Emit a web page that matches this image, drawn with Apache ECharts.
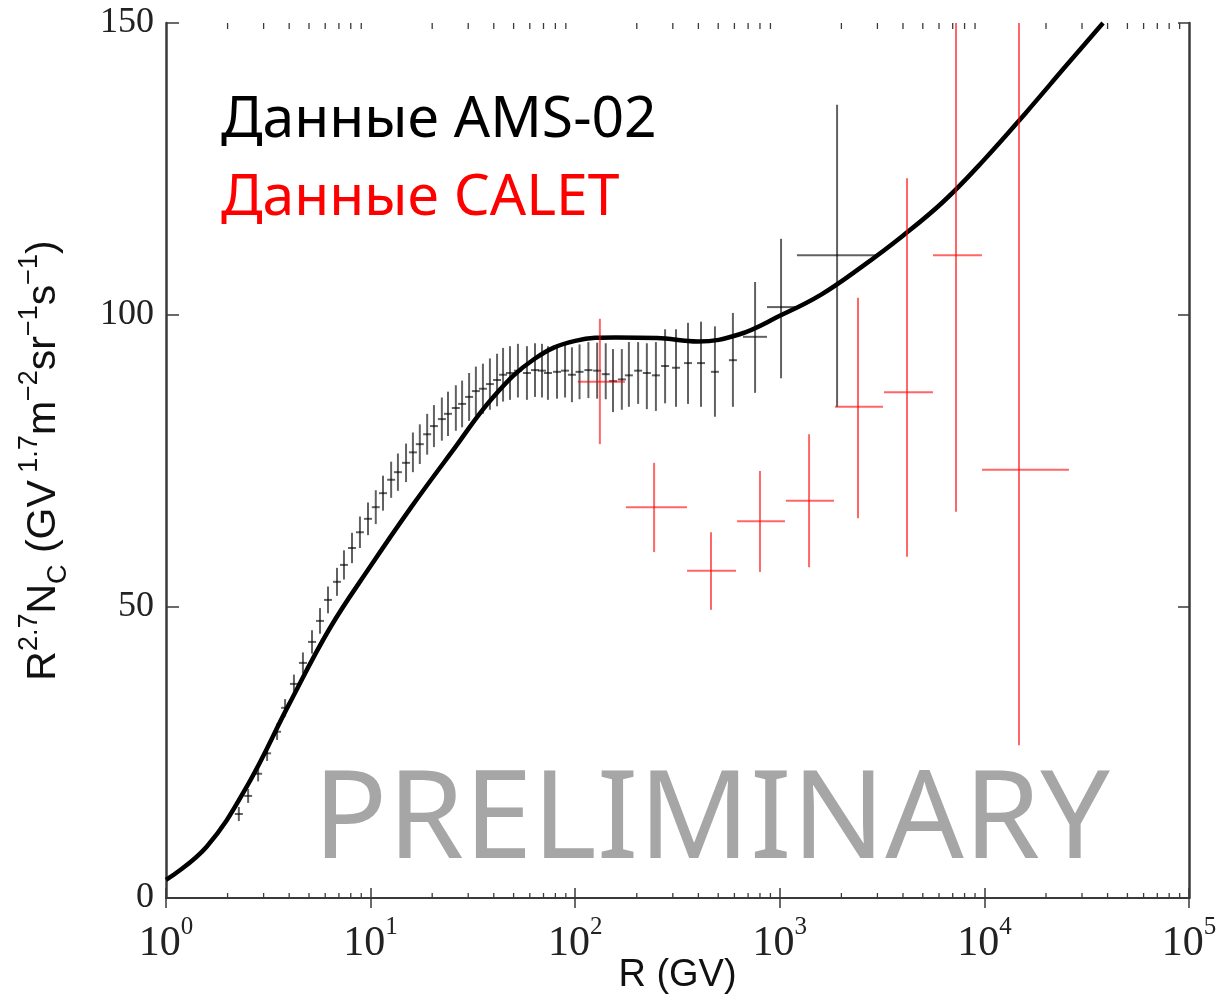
<!DOCTYPE html>
<html>
<head>
<meta charset="utf-8">
<title>R^2.7 N_C vs R</title>
<script src="https://cdn.jsdelivr.net/npm/echarts@6/dist/echarts.min.js"></script>
<style>
  html, body { margin: 0; padding: 0; background: #fff; }
  #chart { width: 1219px; height: 1003px; }
</style>
</head>
<body>
<div id="chart"></div>
<script>
// AMS-02 points: rigidity (GV), value, error bar low/high, bin edges (only last few)
const amsR = [2.27, 2.52, 2.82, 3.12, 3.49, 3.82, 4.22, 4.67, 5.17, 5.66,
  6.19, 6.85, 7.41, 8.11, 8.87, 9.71, 10.6, 11.5, 12.6, 13.6,
  14.9, 16.1, 17.4, 18.9, 20.4, 22.3, 23.9, 26.1, 28.0, 30.3,
  32.7, 35.4, 38.3, 41.5, 44.4, 48.0, 52.5, 58.1, 63.6, 68.8,
  73.6, 81.5, 89.2, 96.4, 105, 116, 128, 141, 153, 169,
  183, 203, 224, 248, 275, 311, 356, 412, 482, 590,
  757, 1014, 1905];
const amsVal = [14.4, 17.5, 21.3, 24.8, 28.5, 32.6, 36.7, 40.3, 43.9, 47.5,
  51.1, 54.2, 57.1, 60.0, 62.7, 65.0, 67.0, 69.4, 71.7, 73.0,
  74.6, 76.4, 77.8, 79.5, 80.9, 82.1, 83.0, 84.0, 84.7, 85.9,
  86.9, 87.3, 88.1, 88.8, 89.7, 90.0, 90.4, 90.0, 90.5, 90.4,
  90.0, 90.2, 90.4, 89.7, 90.2, 90.5, 90.4, 89.8, 88.6, 88.9,
  89.6, 90.4, 90.0, 89.6, 91.2, 90.9, 91.7, 91.7, 90.2, 92.2,
  96.2, 101.3, 110.2];
const amsLow = [13.2, 16.3, 20.0, 23.5, 27.1, 31.1, 35.1, 38.5, 41.9, 45.3,
  48.8, 51.8, 54.6, 57.4, 60.0, 62.2, 64.1, 66.4, 68.6, 69.8,
  71.3, 73.0, 74.4, 76.0, 77.3, 78.4, 79.2, 80.1, 80.7, 81.8,
  82.7, 83.0, 83.7, 84.3, 85.1, 85.4, 85.8, 85.4, 85.9, 85.8,
  85.4, 85.6, 85.8, 85.0, 85.5, 85.7, 85.6, 85.5, 83.3, 83.7,
  84.2, 84.7, 83.8, 83.5, 84.8, 84.2, 84.7, 84.2, 82.5, 84.2,
  86.6, 89.1, 84.2];
const amsHigh = [15.6, 18.7, 22.6, 26.1, 29.9, 34.1, 38.3, 42.1, 45.9, 49.7,
  53.4, 56.6, 59.6, 62.6, 65.4, 67.8, 69.9, 72.4, 74.8, 76.2,
  77.9, 79.8, 81.2, 83.0, 84.5, 85.8, 86.8, 87.9, 88.7, 90.0,
  91.1, 91.6, 92.5, 93.3, 94.3, 94.6, 95.0, 94.6, 95.1, 95.0,
  94.6, 94.8, 95.0, 94.4, 94.9, 95.3, 95.2, 95.1, 94.1, 94.1,
  95.3, 95.3, 95.1, 95.3, 97.5, 97.5, 98.6, 98.8, 98.0, 100.3,
  105.6, 113.0, 136.0];
const amsBinLo = { 60: 661, 61: 866, 62: 1213 };
const amsBinHi = { 60: 866, 61: 1199, 62: 2985 };

// CALET points
const calR = [132, 243, 461, 800, 1390, 2411, 4186, 7264, 14760];
const calVal = [88.5, 67.0, 56.1, 64.6, 68.1, 84.2, 86.7, 110.2, 73.4];
const calLow = [77.8, 59.3, 49.4, 55.9, 56.7, 65.1, 58.5, 66.2, 26.2];
const calHigh = [99.3, 74.6, 62.7, 73.2, 79.5, 102.9, 123.4, 150, 150];
const calBinLo = [103, 177, 352, 618, 1072, 1862, 3230, 5607, 9730];
const calBinHi = [175, 352, 611, 1060, 1841, 3194, 5607, 9730, 25900];

// model curve, read every 0.2 decade
const modelR = [1, 1.58, 2.51, 3.98, 6.31, 10, 15.8, 25.1, 39.8, 63.1, 100, 158, 251, 398, 631,
  1000, 1585, 2512, 3981, 6310, 10000, 15850, 25120, 38000];
const modelVal = [3.1, 8.8, 19.4, 33.1, 46.2, 56.9, 67.0, 76.6, 85.9, 92.4, 95.5, 96.1, 96.0, 95.4, 96.6,
  99.8, 103.4, 108.2, 113.5, 119.4, 126.6, 134.5, 142.7, 150.0];

// axis ticks
const yTicks = [0, 50, 100, 150];
const decades = [1, 10, 100, 1000, 10000];
const minorMantissa = [2, 3, 4, 5, 6, 7, 8, 9];

const minorTicks = [];
decades.forEach(d => minorMantissa.forEach(m => minorTicks.push([m * d])));

const amsData = amsR.map((r, i) => [r, amsVal[i], amsLow[i], amsHigh[i],
  amsBinLo[i] || null, amsBinHi[i] || null]);
const calData = calR.map((r, i) => [r, calVal[i], calLow[i], calHigh[i], calBinLo[i], calBinHi[i]]);
const modelData = modelR.map((r, i) => [r, modelVal[i]]);

const axisColor = '#3a3a3a';
const serif = "'Liberation Serif', 'DejaVu Serif', serif";
const sans = "'Liberation Sans', Arial, sans-serif";
const legendFont = "'Noto Sans', 'Open Sans', sans-serif";

function errorBarItem(color, width, dash) {
  return function (params, api) {
    const x = api.value(0);
    const c = api.coord([x, api.value(1)]);
    const top = api.coord([x, api.value(3)]);
    const bot = api.coord([x, api.value(2)]);
    const xl = api.value(4), xh = api.value(5);
    let left = c[0] - dash, right = c[0] + dash;
    if (xl && xh && !isNaN(xl) && !isNaN(xh)) {
      left = api.coord([xl, api.value(1)])[0];
      right = api.coord([xh, api.value(1)])[0];
    }
    const style = { stroke: color, lineWidth: width };
    return {
      type: 'group',
      children: [
        { type: 'line', shape: { x1: c[0], y1: top[1], x2: c[0], y2: bot[1] }, style: style },
        { type: 'line', shape: { x1: left, y1: c[1], x2: right, y2: c[1] }, style: style }
      ]
    };
  };
}

function minorTickItem(params, api) {
  const v = api.value(0);
  const b = api.coord([v, 0]);
  const t = api.coord([v, 150]);
  const style = { stroke: axisColor, lineWidth: 1.3 };
  return {
    type: 'group',
    children: [
      { type: 'line', shape: { x1: b[0], y1: b[1], x2: b[0], y2: b[1] - 5 }, style: style },
      { type: 'line', shape: { x1: t[0], y1: t[1], x2: t[0], y2: t[1] + 6 }, style: style }
    ]
  };
}

const chart = echarts.init(document.getElementById('chart'), null, { renderer: 'canvas' });

const option = {
  backgroundColor: '#fff',
  animation: false,
  grid: { left: 166, right: 30, top: 23, bottom: 105, containLabel: false, outerBoundsMode: 'none' },
  xAxis: [
    {
      type: 'log', logBase: 10, min: 1, max: 100000,
      position: 'bottom',
      axisLine: { show: true, lineStyle: { color: axisColor, width: 2 } },
      axisTick: { show: true, inside: true, length: 10, lineStyle: { color: axisColor, width: 1.5 } },
      splitLine: { show: false },
      axisLabel: {
        margin: 17,
        formatter: function (v) {
          return '{b|10}{s|' + Math.round(Math.log10(v)) + '}';
        },
        rich: {
          b: { fontFamily: serif, fontSize: 42, lineHeight: 58, color: '#222' },
          s: { fontFamily: serif, fontSize: 25, lineHeight: 25, verticalAlign: 'top', color: '#222' }
        }
      },
      name: 'R (GV)',
      nameLocation: 'middle',
      nameGap: 59,
      nameMoveOverlap: false,
      nameTextStyle: { fontFamily: sans, fontSize: 38, color: '#111' }
    },
    {
      type: 'log', logBase: 10, min: 1, max: 100000,
      position: 'top',
      axisLine: { show: true, lineStyle: { color: axisColor, width: 2 } },
      axisTick: { show: true, inside: true, length: 10, lineStyle: { color: axisColor, width: 1.5 } },
      axisLabel: { show: false },
      splitLine: { show: false }
    }
  ],
  yAxis: [
    {
      type: 'value', min: 0, max: 150, interval: 50,
      position: 'left',
      axisLine: { show: true, lineStyle: { color: axisColor, width: 2.5 } },
      axisTick: { show: true, inside: true, length: 13, lineStyle: { color: axisColor, width: 1.5 } },
      splitLine: { show: false },
      axisLabel: {
        margin: 12,
        fontFamily: serif, fontSize: 36, color: '#222',
        formatter: v => (yTicks.indexOf(v) >= 0 ? String(v) : '')
      },
      name: '{b|R}{sup|2.7}{b|N}{sub|C}{b| (GV}{sup| 1.7}{b|m}{sup|−2}{b|sr}{sup|−1}{b|s}{sup|−1}{b|)}',
      nameLocation: 'middle',
      nameRotate: 90,
      nameGap: 94,
      nameMoveOverlap: false,
      nameTextStyle: {
        rich: {
          b: { fontFamily: sans, fontSize: 41, lineHeight: 56, color: '#111' },
          sup: { fontFamily: sans, fontSize: 27, lineHeight: 27, verticalAlign: 'top', color: '#111' },
          sub: { fontFamily: sans, fontSize: 27, lineHeight: 27, verticalAlign: 'bottom', color: '#111' }
        }
      }
    },
    {
      type: 'value', min: 0, max: 150, interval: 50,
      position: 'right',
      axisLine: { show: true, lineStyle: { color: axisColor, width: 2.5 } },
      axisTick: { show: true, inside: true, length: 11, lineStyle: { color: axisColor, width: 1.5 } },
      axisLabel: { show: false },
      splitLine: { show: false }
    }
  ],
  graphic: [
    {
      type: 'text', left: 221, top: 92, z: 10,
      style: { text: 'Данные AMS-02', font: '57px ' + legendFont, fill: '#000' }
    },
    {
      type: 'text', left: 221, top: 170, z: 10,
      style: { text: 'Данные CALET', font: '57px ' + legendFont, fill: '#ff0000' }
    },
    {
      type: 'text', left: 313, top: 761, z: 10,
      style: { text: 'PRELIMINARY', font: '123px ' + legendFont, fill: '#a6a6a6' }
    }
  ],
  series: [
    {
      name: 'minor ticks',
      type: 'custom',
      xAxisIndex: 0, yAxisIndex: 0,
      silent: true,
      renderItem: minorTickItem,
      data: minorTicks,
      z: 1
    },
    {
      name: 'AMS-02',
      type: 'custom',
      xAxisIndex: 0, yAxisIndex: 0,
      clip: true,
      renderItem: errorBarItem('rgba(0,0,0,0.62)', 2, 4),
      encode: { x: 0, y: 1 },
      data: amsData,
      z: 2
    },
    {
      name: 'model',
      type: 'line',
      xAxisIndex: 0, yAxisIndex: 0,
      data: modelData,
      smooth: 0.4,
      showSymbol: false,
      clip: true,
      lineStyle: { color: '#000', width: 4.5 },
      z: 3
    },
    {
      name: 'CALET',
      type: 'custom',
      xAxisIndex: 0, yAxisIndex: 0,
      clip: true,
      renderItem: errorBarItem('rgba(255,0,0,0.6)', 2, 4),
      encode: { x: 0, y: 1 },
      data: calData,
      z: 4
    }
  ]
};

chart.setOption(option);
window.addEventListener('resize', () => chart.resize());
</script>
</body>
</html>
